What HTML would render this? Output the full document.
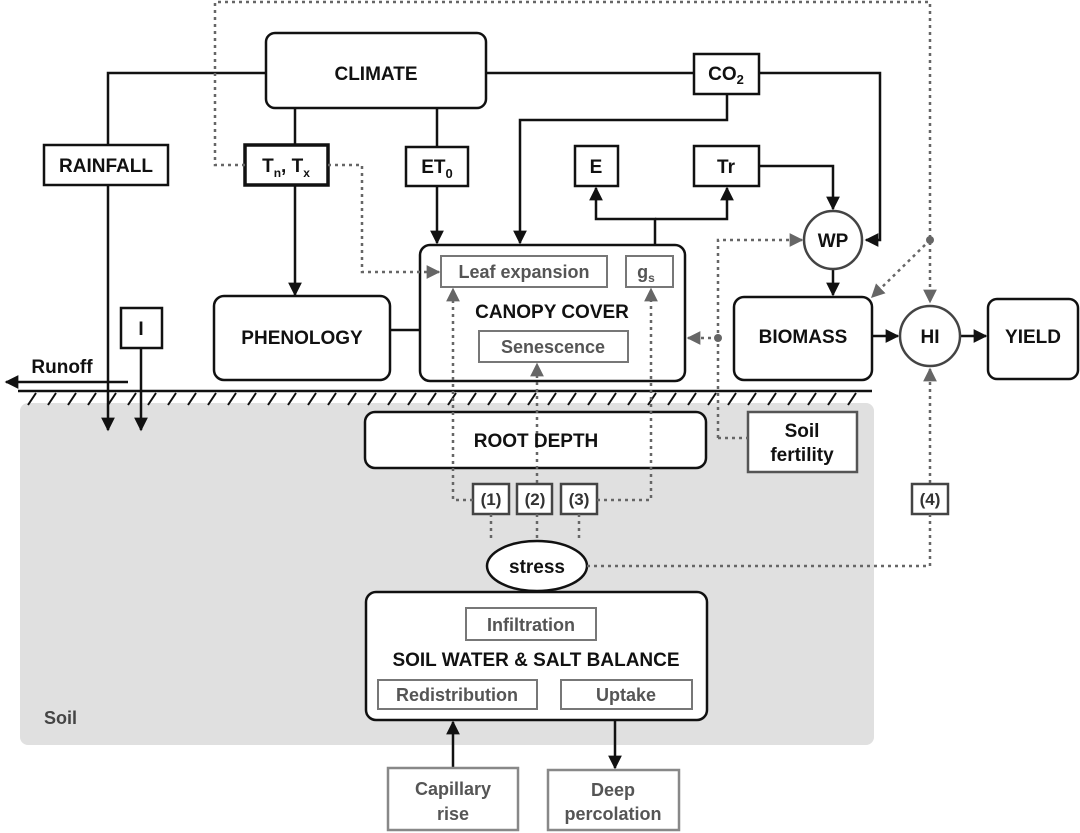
<!DOCTYPE html>
<html><head><meta charset="utf-8"><style>
html,body{margin:0;padding:0;background:#fff;}
svg{display:block;}
text{font-family:"Liberation Sans",sans-serif;font-weight:bold;}
</style></head><body>
<svg width="1080" height="833" viewBox="0 0 1080 833" xmlns="http://www.w3.org/2000/svg">
<defs>
<marker id="ab" viewBox="0 0 10 10" refX="9" refY="5" markerWidth="5.5" markerHeight="5.5" orient="auto"><path d="M0,0 L10,5 L0,10 z" fill="#111"/></marker>
<marker id="ag" viewBox="0 0 10 10" refX="9" refY="5" markerWidth="5.5" markerHeight="5.5" orient="auto"><path d="M0,0 L10,5 L0,10 z" fill="#666"/></marker>
</defs>
<rect x="20" y="403" width="854" height="342" rx="8" fill="#e0e0e0"/>
<text x="44" y="724" font-size="18" fill="#444">Soil</text>
<line x1="18" y1="391" x2="872" y2="391" stroke="#111" stroke-width="2.5"/>
<g stroke="#111" stroke-width="2">
<path d="M28,405 l8,-12 M48,405 l8,-12 M68,405 l8,-12 M88,405 l8,-12 M108,405 l8,-12 M128,405 l8,-12 M148,405 l8,-12 M168,405 l8,-12 M188,405 l8,-12 M208,405 l8,-12 M228,405 l8,-12 M248,405 l8,-12 M268,405 l8,-12 M288,405 l8,-12 M308,405 l8,-12 M328,405 l8,-12 M348,405 l8,-12 M368,405 l8,-12 M388,405 l8,-12 M408,405 l8,-12 M428,405 l8,-12 M448,405 l8,-12 M468,405 l8,-12 M488,405 l8,-12 M508,405 l8,-12 M528,405 l8,-12 M548,405 l8,-12 M568,405 l8,-12 M588,405 l8,-12 M608,405 l8,-12 M628,405 l8,-12 M648,405 l8,-12 M668,405 l8,-12 M688,405 l8,-12 M708,405 l8,-12 M728,405 l8,-12 M748,405 l8,-12 M768,405 l8,-12 M788,405 l8,-12 M808,405 l8,-12 M828,405 l8,-12 M848,405 l8,-12"/>
</g>

<g stroke="#111" stroke-width="2.5" fill="none">
<path d="M266,73 H108 V145"/>
<path d="M108,185 V430" marker-end="url(#ab)"/>
<path d="M141,348 V430" marker-end="url(#ab)"/>
<path d="M128,382 H6" marker-end="url(#ab)"/>
<path d="M486,73 H694"/>
<path d="M759,73 H880 V240 H866" marker-end="url(#ab)"/>
<path d="M727,94 V120 H520 V243" marker-end="url(#ab)"/>
<path d="M295,108 V145"/>
<path d="M295,185 V295" marker-end="url(#ab)"/>
<path d="M437,108 V147"/>
<path d="M437,186 V243" marker-end="url(#ab)"/>
<path d="M655,245 V219 H596 V188" marker-end="url(#ab)"/>
<path d="M655,219 H727 V188" marker-end="url(#ab)"/>
<path d="M759,166 H833 V209" marker-end="url(#ab)"/>
<path d="M833,269 V295" marker-end="url(#ab)"/>
<path d="M872,336 H898" marker-end="url(#ab)"/>
<path d="M960,336 H986" marker-end="url(#ab)"/>
<path d="M390,330 H420"/>
<path d="M453,768 V722" marker-end="url(#ab)"/>
<path d="M615,720 V768" marker-end="url(#ab)"/>
</g>

<g stroke="#111" stroke-width="2.5" fill="#fff">
<rect x="266" y="33" width="220" height="75" rx="9"/>
<rect x="44" y="145" width="124" height="40"/>
<rect x="245" y="145" width="83" height="40" stroke-width="3.5"/>
<rect x="406" y="147" width="62" height="39"/>
<rect x="694" y="54" width="65" height="40"/>
<rect x="575" y="146" width="43" height="40"/>
<rect x="694" y="146" width="65" height="40"/>
<circle cx="833" cy="240" r="29" stroke="#444"/>
<rect x="214" y="296" width="176" height="84" rx="10"/>
<rect x="420" y="245" width="265" height="136" rx="10"/>
<rect x="121" y="308" width="41" height="40"/>
<rect x="734" y="297" width="138" height="83" rx="10"/>
<circle cx="930" cy="336" r="30" stroke="#444"/>
<rect x="988" y="299" width="90" height="80" rx="9"/>
<rect x="365" y="412" width="341" height="56" rx="10"/>
<rect x="748" y="412" width="109" height="60" stroke="#555"/>
<rect x="473" y="484" width="36" height="30" stroke="#444"/>
<rect x="517" y="484" width="35" height="30" stroke="#444"/>
<rect x="561" y="484" width="36" height="30" stroke="#444"/>
<rect x="912" y="484" width="36" height="30" stroke="#444"/>
<ellipse cx="537" cy="566" rx="50" ry="25"/>
<rect x="366" y="592" width="341" height="128" rx="10"/>
<rect x="388" y="768" width="130" height="62" stroke="#888"/>
<rect x="548" y="770" width="131" height="60" stroke="#888"/>
</g>
<g stroke="#777" stroke-width="2" fill="#fff">
<rect x="441" y="256" width="166" height="31"/>
<rect x="626" y="256" width="47" height="31"/>
<rect x="479" y="331" width="149" height="31"/>
<rect x="466" y="608" width="130" height="32"/>
<rect x="378" y="680" width="159" height="29"/>
<rect x="561" y="680" width="131" height="29"/>
</g>

<g stroke="#666" stroke-width="2.5" fill="none" stroke-dasharray="3,4">
<path d="M245,165 H215 V2 H930 V302" marker-end="url(#ag)"/>
<path d="M328,165 H362 V272 H439" marker-end="url(#ag)"/>
<path d="M718,438 V240 H802" marker-end="url(#ag)"/>
<path d="M718,338 H688" marker-end="url(#ag)"/>
<path d="M718,438 H748"/>
<path d="M930,240 L872,297" marker-end="url(#ag)"/>
<path d="M473,500 H453 V289" marker-end="url(#ag)"/>
<path d="M537,483 V364" marker-end="url(#ag)"/>
<path d="M597,500 H651 V289" marker-end="url(#ag)"/>
<path d="M491,514 V541 M537,514 V541 M579,514 V541"/>
<path d="M587,566 H930 V514"/>
<path d="M930,483 V369" marker-end="url(#ag)"/>
</g>
<circle cx="930" cy="240" r="4" fill="#666"/>
<circle cx="718" cy="338" r="4" fill="#666"/>

<g font-size="19" fill="#111" text-anchor="middle">
<text x="376" y="80">CLIMATE</text>
<text x="106" y="172">RAINFALL</text>
<text x="286" y="172">T<tspan font-size="12" dy="5">n</tspan><tspan dy="-5">, T</tspan><tspan font-size="12" dy="5">x</tspan></text>
<text x="437" y="173">ET<tspan font-size="13" dy="5">0</tspan></text>
<text x="726" y="80">CO<tspan font-size="13" dy="4">2</tspan></text>
<text x="596" y="173">E</text>
<text x="726" y="173">Tr</text>
<text x="833" y="247">WP</text>
<text x="302" y="344">PHENOLOGY</text>
<text x="552" y="318">CANOPY COVER</text>
<text x="141" y="335">I</text>
<text x="803" y="343">BIOMASS</text>
<text x="930" y="343">HI</text>
<text x="1033" y="343">YIELD</text>
<text x="536" y="447">ROOT DEPTH</text>
<text x="537" y="573">stress</text>
<text x="536" y="666">SOIL WATER &amp; SALT BALANCE</text>
<text x="62" y="373">Runoff</text>
<text x="802" y="437">Soil</text>
<text x="802" y="461">fertility</text>
</g>
<g font-size="17" fill="#333" text-anchor="middle">
<text x="491" y="505">(1)</text>
<text x="535" y="505">(2)</text>
<text x="579" y="505">(3)</text>
<text x="930" y="505">(4)</text>
</g>
<g font-size="18" fill="#555" text-anchor="middle">
<text x="524" y="278">Leaf expansion</text>
<text x="646" y="278">g<tspan font-size="12" dy="4">s</tspan></text>
<text x="553" y="353">Senescence</text>
<text x="531" y="631">Infiltration</text>
<text x="457" y="701">Redistribution</text>
<text x="626" y="701">Uptake</text>
<text x="453" y="795">Capillary</text>
<text x="453" y="820">rise</text>
<text x="613" y="796">Deep</text>
<text x="613" y="820">percolation</text>
</g>
</svg>
</body></html>
